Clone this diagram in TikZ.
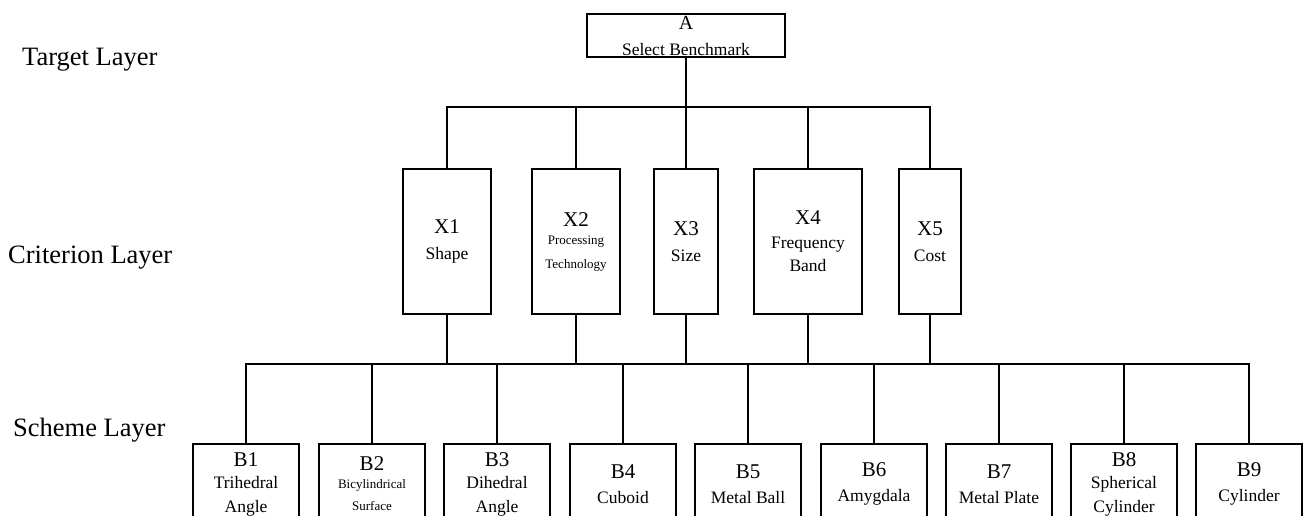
\documentclass[tikz,border=0pt]{standalone}
\usepackage{fontspec}
\setmainfont{Liberation Serif}
\newcommand\mlab[1]{{\fontsize{21}{24}\selectfont #1}}
\newcommand\alab[1]{{\fontsize{20}{24}\selectfont #1}}
\begin{document}
\begin{tikzpicture}[x=1pt,y=-1pt,
  box/.style={draw, line width=1.3pt, rectangle, inner sep=0pt, align=center},
  conn/.style={line width=1.7pt},
  lay/.style={anchor=base west, inner sep=0pt, font=\fontsize{26.5}{30}\selectfont},
  xbox/.style={box, minimum height=145pt, font=\fontsize{17.5}{23.5}\selectfont},
  bnode/.style={box, minimum width=106pt, minimum height=80pt, font=\fontsize{17.5}{23.5}\selectfont},
]
\useasboundingbox (0,0) rectangle (1310,515);
\clip (0,0) rectangle (1310,515);

% layer labels
\node[lay] (LT) at (22,65.7) {Target Layer};
\node[lay] (LC) at (8,263.3) {Criterion Layer};
\node[lay] (LS) at (13,436.7) {Scheme Layer};

% target
\node[box, minimum width=198pt, minimum height=43pt, font=\fontsize{17.5}{26}\selectfont] (A) at (686,35.5) {\alab{A}\\ Select Benchmark};

% criteria
\node[xbox, minimum width=88pt] (X1) at (447,241.5) {\mlab{X1}\\[2.5pt] Shape};
\node[xbox, minimum width=88pt, font=\fontsize{13}{24}\selectfont] (X2) at (576,241.5) {\mlab{X2}\\[-6pt] Processing\\ Technology};
\node[xbox, minimum width=64pt] (X3) at (686,241.5) {\mlab{X3}\\[2.5pt] Size};
\node[xbox, minimum width=108pt] (X4) at (808,241.5) {\mlab{X4}\\ Frequency\\ Band};
\node[xbox, minimum width=62pt] (X5) at (930,241.5) {\mlab{X5}\\[2.5pt] Cost};

% schemes
\node[bnode] (B1) at (246,484) {\mlab{B1}\\[-1pt] Trihedral\\ Angle};
\node[bnode, font=\fontsize{13}{22.5}\selectfont] (B2) at (372,484) {\mlab{B2}\\[-5pt] Bicylindrical\\ Surface};
\node[bnode] (B3) at (497,484) {\mlab{B3}\\[-1pt] Dihedral\\ Angle};
\node[bnode] (B4) at (623,484) {\mlab{B4}\\[1.5pt] Cuboid};
\node[bnode] (B5) at (748,484) {\mlab{B5}\\[1.5pt] Metal Ball};
\node[bnode] (B6) at (874,484) {\mlab{B6}\\[1.5pt] Amygdala};
\node[bnode] (B7) at (999,484) {\mlab{B7}\\[1.5pt] Metal Plate};
\node[bnode] (B8) at (1124,484) {\mlab{B8}\\[-1pt] Spherical\\ Cylinder};
\node[bnode] (B9) at (1249,484) {\mlab{B9}\\[1.5pt] Cylinder};

% upper bus
\coordinate (bus1) at (686,107);
\draw[conn] (A.south) -- (A.south |- bus1);
\draw[conn] (X1.north) |- (bus1);
\draw[conn] (X5.north) |- (bus1);
\draw[conn] (X2.north) -- (X2.north |- bus1);
\draw[conn] (X3.north) -- (X3.north |- bus1);
\draw[conn] (X4.north) -- (X4.north |- bus1);

% lower bus
\coordinate (bus2) at (686,364);
\draw[conn] (X1.south) -- (X1.south |- bus2);
\draw[conn] (X2.south) -- (X2.south |- bus2);
\draw[conn] (X3.south) -- (X3.south |- bus2);
\draw[conn] (X4.south) -- (X4.south |- bus2);
\draw[conn] (X5.south) -- (X5.south |- bus2);
\draw[conn] (B1.north) |- (bus2);
\draw[conn] (B9.north) |- (bus2);
\draw[conn] (B2.north) -- (B2.north |- bus2);
\draw[conn] (B3.north) -- (B3.north |- bus2);
\draw[conn] (B4.north) -- (B4.north |- bus2);
\draw[conn] (B5.north) -- (B5.north |- bus2);
\draw[conn] (B6.north) -- (B6.north |- bus2);
\draw[conn] (B7.north) -- (B7.north |- bus2);
\draw[conn] (B8.north) -- (B8.north |- bus2);
\end{tikzpicture}
\end{document}
